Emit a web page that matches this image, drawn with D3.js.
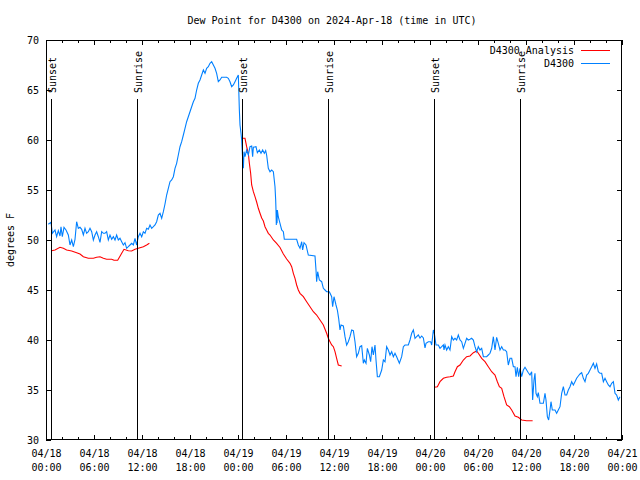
<!DOCTYPE html>
<html>
<head>
<meta charset="utf-8">
<script src="https://cdn.jsdelivr.net/npm/d3@7"></script>
<style>
  html, body { margin: 0; padding: 0; background: #fff; }
  svg { display: block; }
  text { font-family: "DejaVu Sans Mono", "Liberation Mono", monospace; font-size: 10px; fill: #000; }
</style>
</head>
<body>
<svg id="chart" width="640" height="480"></svg>
<script>
// ---- data (hours since 2024-04-18 00:00 UTC) ----
const titleText = "Dew Point for D4300 on 2024-Apr-18 (time in UTC)";
const yLabel = "degrees F";
const seriesNames = ["D4300 Analysis", "D4300"];
const seriesColors = ["#ff0000", "#0080ff"];

const obsHours = [0.29,0.625,0.79,1.125,1.33,1.54,1.75,1.875,2.04,2.25,2.5,2.79,3.0,3.21,3.42,3.625,3.83,4.04,4.25,4.46,4.67,4.875,5.08,5.29,5.5,5.71,5.92,6.125,6.33,6.54,6.75,6.96,7.17,7.375,7.58,7.79,8.0,8.21,8.42,8.625,8.83,9.04,9.25,9.46,9.67,9.875,10.08,10.29,10.5,10.71,10.92,11.125,11.33,11.54,11.75,11.96,12.17,12.375,12.58,12.79,13.0,13.21,13.42,13.625,13.83,14.04,14.25,14.46,14.67,14.875,15.08,15.29,15.5,15.71,15.92,16.125,16.33,16.54,16.75,16.96,17.17,17.375,17.58,17.79,18.0,18.21,18.42,18.625,18.83,19.04,19.25,19.46,19.67,19.875,20.08,20.29,20.5,20.71,20.92,21.125,21.33,21.54,21.75,21.96,22.17,22.375,22.58,22.79,23.0,23.21,23.42,23.625,23.83,24.04,24.17,24.25,24.375,24.46,24.54,24.67,24.75,24.875,25.08,25.29,25.5,25.71,25.83,25.92,26.25,26.42,26.67,26.875,27.08,27.29,27.46,27.58,27.79,28.0,28.21,28.42,28.625,28.71,28.75,28.79,28.83,28.88,28.92,29.04,29.25,29.46,29.67,29.79,31.33,31.54,31.75,31.96,32.08,32.25,32.5,32.79,33.625,33.75,33.83,33.96,34.17,34.46,34.67,34.875,35.08,35.42,35.71,35.83,36.0,36.25,36.42,36.58,36.75,36.875,37.17,37.375,37.58,37.79,38.0,38.21,38.42,38.625,38.83,39.04,39.25,39.46,39.67,39.79,40.0,40.17,40.42,40.58,40.75,40.92,41.125,41.25,41.42,41.67,41.96,42.17,42.375,42.58,42.79,43.0,43.21,43.42,43.625,43.83,44.17,44.46,44.67,44.875,45.29,45.5,45.71,45.92,46.125,46.33,46.54,46.75,46.96,47.17,47.375,47.5,47.79,48.08,48.21,48.42,48.54,48.75,49.04,49.25,49.46,49.67,49.75,49.875,50.08,50.29,50.5,50.71,50.92,51.125,51.33,51.54,51.75,51.96,52.17,52.375,52.58,52.79,53.0,53.21,53.42,53.625,53.83,54.04,54.25,54.46,54.67,55.08,55.29,55.5,55.71,55.92,56.125,56.33,56.54,56.75,56.96,57.17,57.375,57.58,57.79,58.0,58.21,58.42,58.625,58.75,58.92,59.08,59.25,59.46,59.67,59.875,60.08,60.29,60.5,60.71,60.83,61.0,61.125,61.25,61.42,61.54,61.75,62.17,62.375,62.5,62.67,62.83,63.0,63.125,63.29,63.625,63.83,64.04,64.25,64.46,64.67,64.875,65.08,65.29,65.5,65.71,65.92,66.125,66.33,66.54,66.75,66.96,67.17,67.375,67.58,67.79,68.0,68.21,68.42,68.625,68.83,69.04,69.25,69.46,69.67,69.875,70.08,70.29,70.5,70.71,70.92,71.125,71.33,71.54,71.75];
const obsValues = [51.57,51.77,50.67,51.0,50.33,50.93,50.4,51.33,50.33,51.27,51.0,50.5,49.5,50.0,49.33,50.07,51.83,51.17,51.27,51.07,50.5,51.17,50.67,50.83,51.17,50.83,50.0,50.5,50.83,50.33,49.77,50.83,50.67,50.67,50.83,50.0,50.5,50.07,50.33,50.0,50.5,50.0,50.17,49.83,49.5,49.73,49.17,49.33,49.5,49.67,49.5,50.17,49.5,50.33,50.67,50.33,50.83,50.67,51.17,51.07,51.5,51.17,51.33,51.5,51.83,52.5,52.67,52.17,52.83,53.6,54.5,55.17,55.83,56.0,56.33,57.17,57.67,58.5,59.33,59.83,60.5,61.17,61.83,62.33,62.83,63.33,63.83,64.17,65.0,65.67,66.0,66.5,67.0,66.67,67.17,67.33,67.67,67.83,67.5,67.17,66.67,65.83,66.0,66.27,66.27,66.27,66.27,66.17,65.83,65.33,65.5,65.83,66.17,66.5,63.0,61.5,60.67,60.0,58.67,57.17,58.83,58.33,59.0,58.5,59.33,59.4,58.33,59.27,59.33,58.73,59.0,58.67,59.0,58.67,58.93,58.5,57.17,56.83,57.0,56.83,55.33,54.0,53.0,51.5,53.0,51.67,53.0,52.3,51.67,51.0,50.83,50.07,50.07,49.5,49.17,49.83,49.0,49.73,49.5,48.5,48.4,47.0,45.83,46.83,46.0,45.83,45.17,45.0,44.83,44.83,44.33,43.33,44.33,43.5,43.0,42.17,41.0,41.5,41.4,40.33,39.5,39.83,40.33,41.0,40.93,39.83,38.33,38.67,39.33,39.43,37.67,38.0,37.67,39.17,38.5,37.83,39.33,38.5,39.5,38.0,36.33,36.33,37.0,38.0,37.83,39.33,39.0,38.5,38.83,38.33,38.67,38.33,37.67,38.33,39.33,39.5,39.5,40.0,40.67,41.0,40.17,40.33,40.5,40.2,40.4,40.2,39.2,39.67,39.83,39.83,39.5,41.0,40.67,39.5,39.5,39.17,39.33,39.5,39.0,39.5,39.0,39.33,39.0,40.33,40.0,40.17,40.0,40.5,40.0,39.83,39.17,39.67,40.17,40.0,40.07,40.17,40.0,39.33,38.83,39.33,39.0,39.17,38.33,38.33,38.5,38.67,39.17,40.33,39.0,40.27,39.67,39.0,39.33,39.0,39.0,38.83,37.5,38.17,38.17,37.33,37.33,36.33,37.27,36.33,37.17,36.33,37.0,37.27,37.0,36.73,36.5,36.83,34.0,36.0,36.67,34.67,34.33,34.73,33.67,33.67,34.67,34.0,32.33,32.0,33.0,33.83,33.0,33.0,32.67,33.0,33.33,34.67,35.33,34.5,34.5,35.0,35.33,35.83,35.5,35.83,36.17,36.4,36.6,36.73,36.17,35.83,36.5,36.67,37.0,37.33,37.67,37.17,37.6,36.83,36.67,36.67,35.83,36.17,35.83,35.5,35.33,35.67,35.83,34.67,34.5,34.0,34.33];

// analysis series: null marks a gap between runs
const anaHours = [0.71,1.125,1.75,2.17,2.58,3.21,3.83,4.25,4.67,5.29,5.92,6.33,6.75,7.17,7.58,8.21,8.5,8.96,9.46,9.75,10.29,10.71,11.125,11.54,12.17,12.58,12.92,
  18.0,
  24.46,24.875,25.08,25.29,25.42,25.58,25.71,25.92,26.125,26.33,26.54,26.75,26.96,27.17,27.375,27.58,27.79,28.0,28.42,28.83,29.25,29.67,30.08,30.5,30.71,30.92,31.125,31.33,31.54,31.75,32.17,32.58,33.0,33.42,33.83,34.25,34.67,35.08,35.29,35.5,35.71,35.92,36.125,36.33,36.54,36.96,
  42.0,
  48.54,48.92,49.25,49.67,50.08,50.5,50.92,51.125,51.42,51.75,52.17,52.58,53.0,53.42,53.83,54.04,54.46,54.875,55.29,55.71,56.125,56.42,56.67,56.96,57.25,57.58,57.92,58.21,58.625,59.04,59.46,60.08,60.83];
const anaValues = [48.93,49.0,49.27,49.17,49.0,48.9,48.73,48.6,48.33,48.17,48.17,48.27,48.33,48.17,48.07,48.07,47.97,47.97,48.67,49.07,48.93,48.9,49.07,49.17,49.33,49.5,49.67,
  null,
  60.17,60.17,59.33,58.67,57.67,56.67,55.5,54.83,54.33,53.8,53.17,52.67,52.2,51.9,51.33,51.0,50.67,50.5,50.0,49.67,49.25,48.6,48.1,47.67,47.33,46.67,46.17,45.5,45.0,44.67,44.33,43.83,43.33,42.83,42.5,42.0,41.5,40.67,40.17,39.83,39.5,39.33,38.83,38.17,37.5,37.4,
  null,
  35.27,35.33,35.83,36.17,36.27,36.33,36.4,36.83,37.33,37.5,38.0,38.33,38.4,38.73,38.9,38.67,38.17,37.83,37.33,36.83,36.5,35.83,35.33,35.17,34.33,33.5,33.33,33.0,32.4,32.27,32.0,31.93,31.93];

const sunHours = [0.66, 11.41, 24.54, 35.29, 48.54, 59.29];
const sunLabels = ["Sunset", "Sunrise", "Sunset", "Sunrise", "Sunset", "Sunrise"];

const yTicks = [30, 35, 40, 45, 50, 55, 60, 65, 70];
const xMajorHours = [0, 6, 12, 18, 24, 30, 36, 42, 48, 54, 60, 66, 72];
const xMinorHours = d3.range(0, 73, 2);

// ---- drawing ----
const t0 = Date.UTC(2024, 3, 18, 0, 0);
const toDate = h => new Date(t0 + h * 3600e3);

const L = 46, R = 622, T = 40, B = 440;
const svg = d3.select("#chart");
const x = d3.scaleUtc().domain([toDate(0), toDate(72)]).range([L, R]);
const y = d3.scaleLinear().domain([30, 70]).range([B, T]);

svg.append("rect").attr("width", 640).attr("height", 480).attr("fill", "#fff");

// title
svg.append("text").attr("x", 332).attr("y", 24).attr("text-anchor", "middle").text(titleText);

// y label
svg.append("text").attr("transform", "translate(14,240) rotate(-90)")
  .attr("text-anchor", "middle").text(yLabel);

// data lines
const obs = obsHours.map((h, i) => ({ d: toDate(h), v: obsValues[i] }));
const ana = anaHours.map((h, i) => ({ d: toDate(h), v: anaValues[i] }));
const line = d3.line().defined(p => p.v != null).x(p => x(p.d)).y(p => y(p.v));

svg.append("path").datum(ana).attr("d", line).attr("fill", "none")
  .attr("stroke", seriesColors[0]).attr("stroke-width", 1.1);
svg.append("path").datum(obs).attr("d", line).attr("fill", "none")
  .attr("stroke", seriesColors[1]).attr("stroke-width", 1.1);

// sunrise / sunset markers
const sun = svg.append("g");
sunHours.forEach((h, i) => {
  const sx = Math.round(x(toDate(h))) + 0.5;
  sun.append("line").attr("x1", sx).attr("x2", sx).attr("y1", 99).attr("y2", B)
    .attr("stroke", "#000").attr("stroke-width", 1).attr("shape-rendering", "crispEdges");
  sun.append("text").attr("transform", `translate(${sx + 4},93) rotate(-90)`)
    .attr("text-anchor", "start").text(sunLabels[i]);
});

// axes
const axG = svg.append("g").attr("shape-rendering", "crispEdges");
const fmtDay = d3.utcFormat("%m/%d"), fmtTime = d3.utcFormat("%H:%M");

// bottom major with labels
const gb = axG.append("g").attr("transform", `translate(0,${B})`)
  .call(d3.axisBottom(x).tickValues(xMajorHours.map(toDate)).tickSize(-5).tickPadding(0).tickFormat(""));
gb.selectAll(".tick").append("text").attr("text-anchor", "middle")
  .each(function (d) {
    const t = d3.select(this);
    t.append("tspan").attr("x", 0).attr("y", 17).text(fmtDay(d));
    t.append("tspan").attr("x", 0).attr("y", 31).text(fmtTime(d));
  });
// bottom minor
axG.append("g").attr("transform", `translate(0,${B})`)
  .call(d3.axisBottom(x).tickValues(xMinorHours.map(toDate)).tickSize(-3).tickFormat(""));
// top major/minor
axG.append("g").attr("transform", `translate(0,${T})`)
  .call(d3.axisTop(x).tickValues(xMajorHours.map(toDate)).tickSize(-5).tickFormat(""));
axG.append("g").attr("transform", `translate(0,${T})`)
  .call(d3.axisTop(x).tickValues(xMinorHours.map(toDate)).tickSize(-3).tickFormat(""));
// left
axG.append("g").attr("transform", `translate(${L},0)`)
  .call(d3.axisLeft(y).tickValues(yTicks).tickSize(-5).tickPadding(7).tickFormat(d3.format("d")));
// right
axG.append("g").attr("transform", `translate(${R},0)`)
  .call(d3.axisRight(y).tickValues(yTicks).tickSize(-5).tickFormat(""));

axG.selectAll(".domain").remove();
axG.selectAll(".tick line").attr("stroke", "#000");
axG.selectAll("text").attr("fill", "#000").style("font-family", "'DejaVu Sans Mono', monospace").style("font-size", "10px");

// frame
svg.append("rect").attr("x", L + 0.5).attr("y", T + 0.5).attr("width", R - L - 1).attr("height", B - T - 1)
  .attr("fill", "none").attr("stroke", "#000").attr("stroke-width", 1).attr("shape-rendering", "crispEdges");

// legend
const leg = svg.append("g");
seriesNames.forEach((name, i) => {
  const ly = 50 + i * 13;
  leg.append("text").attr("x", 574).attr("y", ly + 3.5).attr("text-anchor", "end").text(name);
  leg.append("line").attr("x1", 581).attr("x2", 610).attr("y1", ly + 0.5).attr("y2", ly + 0.5)
    .attr("stroke", seriesColors[i]).attr("stroke-width", 1).attr("shape-rendering", "crispEdges");
});
</script>
</body>
</html>
